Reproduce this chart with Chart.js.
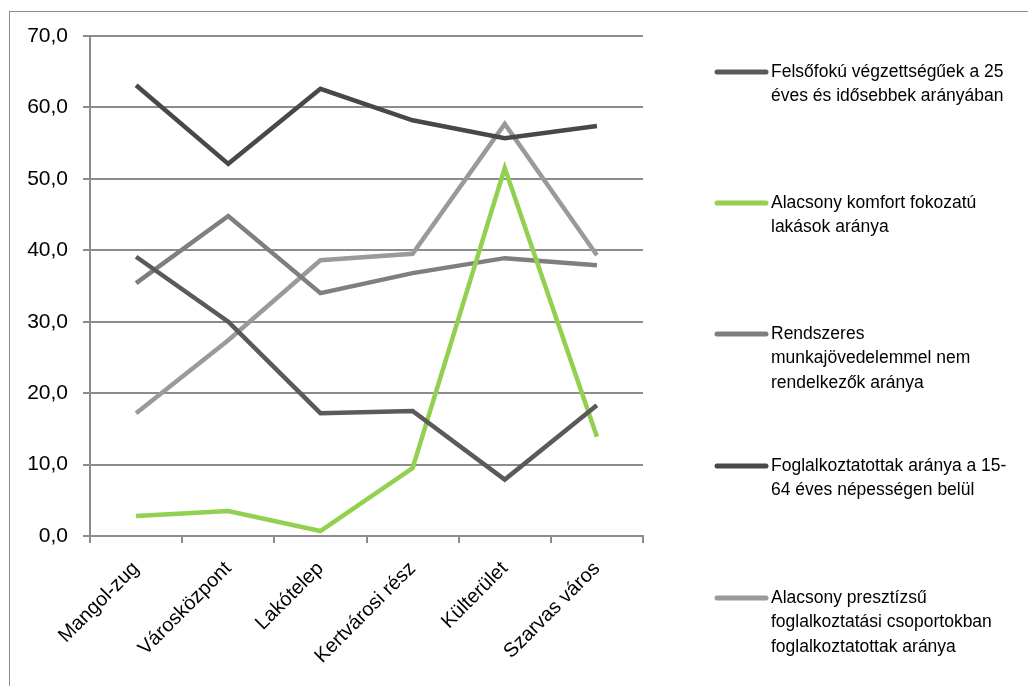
<!DOCTYPE html>
<html>
<head>
<meta charset="utf-8">
<script src="https://cdn.jsdelivr.net/npm/chart.js@4"></script>
<style>
  html, body { margin: 0; padding: 0; background: #fff; overflow: hidden; }
  #wrap { position: relative; width: 1028px; height: 686px; }
</style>
</head>
<body>
<div id="wrap"><canvas id="graph" width="1028" height="686"></canvas></div>
<script>
// categories (districts)
const categories = ['Mangol-zug', 'Városközpont', 'Lakótelep', 'Kertvárosi rész', 'Külterület', 'Szarvas város'];

// series values
const felsofoku = [39.1, 30.0, 17.2, 17.5, 7.9, 18.3];
const komfort = [2.8, 3.5, 0.7, 9.5, 51.5, 13.9];
const rendszeres = [35.4, 44.8, 34.0, 36.8, 38.9, 37.9];
const foglalkoztatottak = [63.1, 52.1, 62.6, 58.2, 55.7, 57.4];
const presztizs = [17.2, 27.4, 38.6, 39.5, 57.7, 39.3];

// legend labels, already broken into lines
const legendLines = [
  ['Felsőfokú végzettségűek a 25', 'éves és idősebbek arányában'],
  ['Alacsony komfort fokozatú', 'lakások aránya'],
  ['Rendszeres', 'munkajövedelemmel nem', 'rendelkezők aránya'],
  ['Foglalkoztatottak aránya a 15-', '64 éves népességen belül'],
  ['Alacsony presztízsű', 'foglalkoztatási csoportokban', 'foglalkoztatottak aránya']
];

const colors = ['#5a5a5a', '#92d050', '#7f7f7f', '#484848', '#9a9a9a'];
const seriesData = [felsofoku, komfort, rendszeres, foglalkoztatottak, presztizs];

const fontFamily = '"Liberation Sans", Arial, sans-serif';

// frame + custom legend on the right
const sideLegend = {
  id: 'sideLegend',
  beforeDraw(chart) {
    const ctx = chart.ctx;
    ctx.save();
    ctx.strokeStyle = '#8c8c8c';
    ctx.lineWidth = 1;
    ctx.strokeRect(9.5, 11.5, 1200, 1000);
    ctx.restore();
  },
  afterDraw(chart) {
    const ctx = chart.ctx;
    const tops = [72, 203, 334, 466, 598];
    ctx.save();
    ctx.font = '17.5px ' + fontFamily;
    ctx.textBaseline = 'middle';
    ctx.fillStyle = '#000';
    legendLines.forEach((lines, i) => {
      const y = tops[i];
      ctx.strokeStyle = colors[i];
      ctx.lineWidth = 5;
      ctx.lineCap = 'round';
      ctx.beginPath();
      ctx.moveTo(717, y);
      ctx.lineTo(766, y);
      ctx.stroke();
      lines.forEach((t, j) => ctx.fillText(t, 771, y + j * 24.5));
    });
    ctx.restore();
  }
};

const graph = document.getElementById('graph').getContext('2d');
let myChart = new Chart(graph, {
  type: 'line',
  data: {
    labels: categories,
    datasets: seriesData.map((d, i) => ({
      label: legendLines[i].join(' '),
      data: d,
      borderColor: colors[i],
      backgroundColor: colors[i],
      borderWidth: 4.5,
      pointRadius: 0,
      tension: 0,
      fill: false
    }))
  },
  options: {
    responsive: false,
    animation: false,
    layout: {
      padding: { left: 10, top: 36, right: 385, bottom: 0 }
    },
    plugins: {
      legend: { display: false },
      tooltip: { enabled: false }
    },
    scales: {
      x: {
        offset: true,
        border: { color: '#8c8c8c', width: 2 },
        grid: {
          drawOnChartArea: false,
          drawTicks: true,
          tickLength: 7,
          color: '#8c8c8c',
          lineWidth: 2,
          offset: true
        },
        ticks: {
          maxRotation: 45,
          minRotation: 45,
          color: '#000',
          padding: 14,
          font: { family: fontFamily, size: 20 }
        },
        afterFit(scale) { scale.height = 686 - 536; }
      },
      y: {
        min: 0,
        max: 70,
        border: { color: '#8c8c8c', width: 2 },
        grid: {
          color: '#8c8c8c',
          lineWidth: 2,
          tickLength: 7
        },
        ticks: {
          stepSize: 10,
          color: '#000',
          padding: 15,
          font: { family: fontFamily, size: 21 },
          callback: v => v.toFixed(1).replace('.', ',')
        },
        afterFit(scale) { scale.width = 80; }
      }
    }
  },
  plugins: [sideLegend]
});
</script>
</body>
</html>
